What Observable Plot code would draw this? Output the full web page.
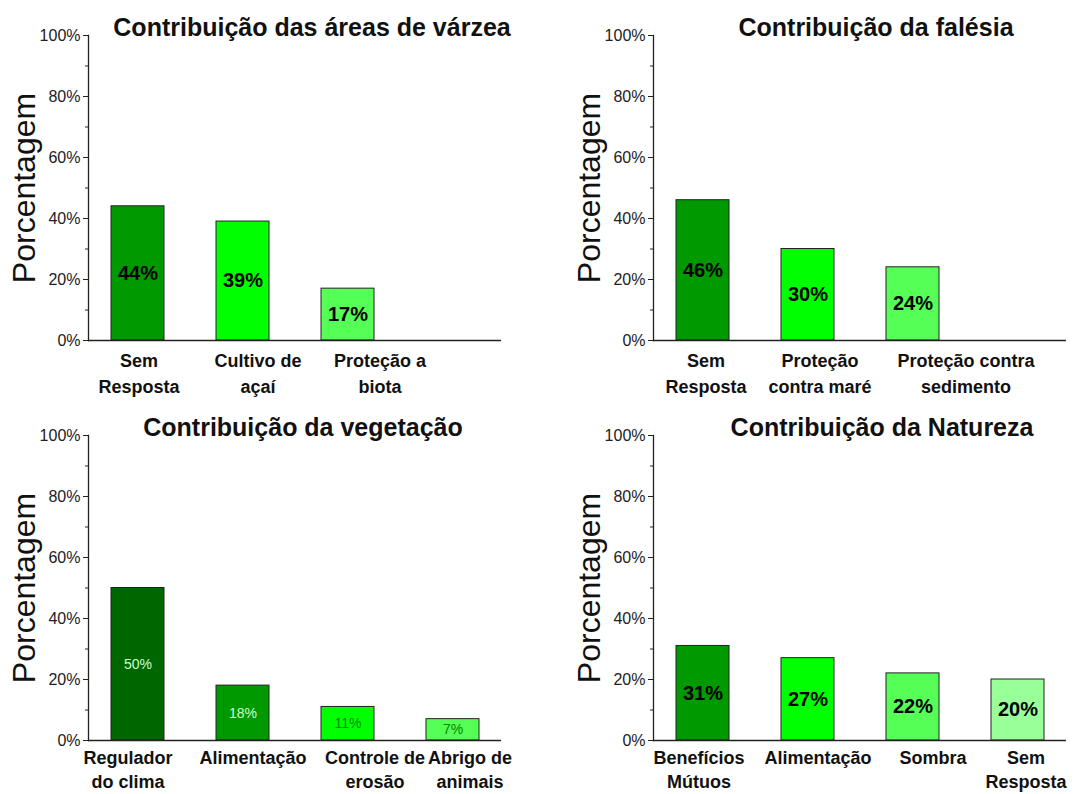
<!DOCTYPE html>
<html><head><meta charset="utf-8">
<script src="https://cdn.jsdelivr.net/npm/d3@7"></script>
<script src="https://cdn.jsdelivr.net/npm/@observablehq/plot@0.6"></script>
<style>
body{margin:0;background:#fff;}
#wrap{position:relative;width:1087px;height:794px;overflow:hidden;background:#fff;}
.panel{position:absolute;}
</style></head><body><div id="wrap"></div>
<script>
// ---- data ----
const varzeaCategories = ["Sem\nResposta", "Cultivo de\naçaí", "Proteção a\nbiota"];
const varzeaValues = [44, 39, 17];
const falesiaCategories = ["Sem\nResposta", "Proteção\ncontra maré", "Proteção contra\nsedimento"];
const falesiaValues = [46, 30, 24];
const vegetacaoCategories = ["Regulador\ndo clima", "Alimentação", "Controle de\nerosão", "Abrigo de\nanimais"];
const vegetacaoValues = [50, 18, 11, 7];
const naturezaCategories = ["Benefícios\nMútuos", "Alimentação", "Sombra", "Sem\nResposta"];
const naturezaValues = [31, 27, 22, 20];
const titles = ["Contribuição das áreas de várzea", "Contribuição da falésia", "Contribuição da vegetação", "Contribuição da Natureza"];
const yTicks = [0, 20, 40, 60, 80, 100];
const yMinorTicks = [10, 30, 50, 70, 90];
const yLabel = "Porcentagem";

// ---- styles ----
const greens = ["#009900", "#00ff00", "#55ff55", "#99ff99"];
const vegGreens = ["#006600", "#009900", "#00ff00", "#55ff55"];
const vegLabelColors = ["#ccffcc", "#ccffcc", "#008800", "#008800"];
// horizontal nudges of the category labels (as set in the original figure)
const varzeaLabelShift = [1, 15, 32];
const falesiaLabelShift = [3, 12, 53];
const vegetacaoLabelShift = [-10, 10, 27, 17];
const naturezaLabelShift = [-4, 10, 20, 8];
const FONT = "Arial, 'Liberation Sans', sans-serif";

function panel(cats, vals, title, fills, opts) {
  const data = cats.map((c, i) => ({cat: c, value: vals[i], fill: fills[i], lab: opts.labelColors ? opts.labelColors[i] : "#000"}));
  const domain = cats.slice();
  while (domain.length < 4) domain.push(" ".repeat(domain.length));
  return Plot.plot({
    width: 522, height: opts.height,
    marginLeft: 88, marginRight: 21, marginTop: 35, marginBottom: opts.marginBottom,
    style: {fontFamily: FONT, background: "white", color: "#111", overflow: "visible"},
    x: {domain, paddingInner: 0.5, paddingOuter: 0.2, axis: null},
    y: {domain: [0, 100], axis: null},
    marks: [
      Plot.barY(data, {x: "cat", y: "value", fill: "fill", stroke: "#222", strokeWidth: 1}),
      Plot.text(data, {x: "cat", y: d => d.value / 2, text: d => d.value + "%", fill: "lab",
        fontSize: opts.labelSize, fontWeight: opts.labelWeight}),
      Plot.ruleY([0], {stroke: "#222", strokeWidth: 1.3}),
      Plot.frame({anchor: "left", stroke: "#222", strokeWidth: 1.3}),
      Plot.axisY({ticks: yMinorTicks, tickSize: 3, tickFormat: () => "", label: null, stroke: "#222"}),
      Plot.axisY({ticks: yTicks, tickSize: 5, tickPadding: 3, tickFormat: d => d + "%", fontSize: 16, label: null, stroke: "#222", fill: "#222"}),
      ...data.map((d, i) => Plot.text([d], {x: "cat", text: "cat", frameAnchor: "bottom", lineAnchor: "top",
        dy: opts.catDy, dx: opts.shift[i], fontSize: 18, fontWeight: "bold", lineHeight: opts.lineHeight, fill: "#111"})),
      Plot.text([title], {text: d => d, frameAnchor: "top", lineAnchor: "bottom", dx: opts.titleDx,
        fontSize: 25, fontWeight: "bold", fill: "#111"}),
      Plot.text([yLabel], {text: d => d, frameAnchor: "left", textAnchor: "middle", rotate: -90, dx: -64, fontSize: 32, fill: "#111"})
    ]
  });
}

const wrap = document.getElementById("wrap");
function place(svg, left, top) {
  const d = document.createElement("div");
  d.className = "panel";
  d.style.left = left + "px";
  d.style.top = top + "px";
  d.appendChild(svg);
  wrap.appendChild(d);
}
const bold = {labelSize: 20, labelWeight: "bold"};
const topRow = {height: 400, marginBottom: 60, catDy: 8, lineHeight: 1.45};
const bottomRow = {height: 394, marginBottom: 54, catDy: 6, lineHeight: 1.35};
place(panel(varzeaCategories, varzeaValues, titles[0], greens, {...bold, ...topRow, titleDx: 17, shift: varzeaLabelShift}), 0, 0);
place(panel(falesiaCategories, falesiaValues, titles[1], greens, {...bold, ...topRow, titleDx: 16, shift: falesiaLabelShift}), 565, 0);
place(panel(vegetacaoCategories, vegetacaoValues, titles[2], vegGreens, {labelSize: 14, labelWeight: "normal", labelColors: vegLabelColors, ...bottomRow, titleDx: 8, shift: vegetacaoLabelShift}), 0, 400);
place(panel(naturezaCategories, naturezaValues, titles[3], greens, {...bold, ...bottomRow, titleDx: 22, shift: naturezaLabelShift}), 565, 400);
</script></body></html>
